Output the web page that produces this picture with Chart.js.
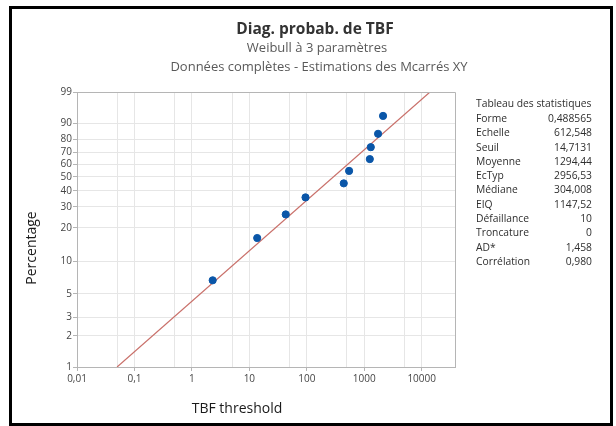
<!DOCTYPE html>
<html>
<head>
<meta charset="utf-8">
<script src="https://cdn.jsdelivr.net/npm/chart.js@4.4.0/dist/chart.umd.min.js"></script>
<style>
    html, body { margin: 0; padding: 0; background: #ffffff; }
    #wrap { width: 616px; height: 426px; }
</style>
</head>
<body>
<div id="wrap"><canvas id="probChart" width="616" height="426"></canvas></div>
<script>

// ======================================
// Data
// ======================================

// percent ticks of the Weibull probability axis
const yPctTicks = [1, 2, 3, 5, 10, 20, 30, 40, 50, 60, 70, 80, 90, 99];

// log axis: grid lines and the labelled decades
const xGridTicks = [0.01, 0.05, 0.1, 0.5, 1, 5, 10, 50, 100, 500, 1000, 5000, 10000];
const xLabelTicks = [0.01, 0.1, 1, 10, 100, 1000, 10000];
const xLabelText = ["0,01", "0,1", "1", "10", "100", "1000", "10000"];

// TBF - seuil, and plotted percentages
const tbfValues = [2.3, 13.7, 43, 95, 440, 545, 1250, 1300, 1740, 2125];
const pctValues = [6.7, 16.3, 26.0, 35.6, 45.2, 54.8, 64.4, 74.0, 83.7, 93.3];

// fitted parameters
const forme = 0.488565;
const echelle = 612.548;

// statistics table
const statLabels = [
    "Forme", "Echelle", "Seuil", "Moyenne", "EcTyp", "Médiane",
    "EIQ", "Défaillance", "Troncature", "AD*", "Corrélation"
];
const statValues = [
    "0,488565", "612,548", "14,7131", "1294,44", "2956,53", "304,008",
    "1147,52", "10", "0", "1,458", "0,980"
];

// ======================================
// Helpers
// ======================================

const weib = p => Math.log(-Math.log(1 - p / 100));

const fitX = p => echelle * Math.pow(-Math.log(1 - p / 100), 1 / forme);

const pointColor = "#0a56a8";
const lineColor = "#c9706a";
const gridColor = "#e6e6e6";
const axisColor = "#b5b5b5";
const tickColor = "#454545";
const uiFont = "'Open Sans', 'Noto Sans', sans-serif";

const points = tbfValues.map((x, i) => ({ x: x, y: weib(pctValues[i]) }));

const fitLine = [
    { x: fitX(yPctTicks[0]), y: weib(yPctTicks[0]) },
    { x: fitX(yPctTicks[yPctTicks.length - 1]), y: weib(yPctTicks[yPctTicks.length - 1]) }
];

// ======================================
// Texts, frames and table
// ======================================

const decorations = {

    id: "decorations",

    afterDraw(chart) {

        const ctx = chart.ctx;
        const area = chart.chartArea;

        ctx.save();

        // plot frame (top / right)
        ctx.strokeStyle = axisColor;
        ctx.lineWidth = 1;
        ctx.beginPath();
        ctx.moveTo(area.left, area.top + 0.5);
        ctx.lineTo(area.right + 0.5, area.top + 0.5);
        ctx.lineTo(area.right + 0.5, area.bottom);
        ctx.stroke();

        // outer border
        ctx.fillStyle = "#000000";
        ctx.fillRect(9, 6, 604, 3);
        ctx.fillRect(9, 6, 3, 420);
        ctx.fillRect(610, 6, 3, 420);
        ctx.fillRect(9, 423, 604, 3);

        // titles
        ctx.textAlign = "center";
        ctx.textBaseline = "middle";

        ctx.fillStyle = "#333333";
        ctx.font = "bold 15.5px " + uiFont;
        ctx.fillText("Diag. probab. de TBF", 315, 30);

        ctx.fillStyle = "#595959";
        ctx.font = "13px " + uiFont;
        ctx.fillText("Weibull à 3 paramètres", 317, 48);
        ctx.fillText("Données complètes - Estimations des Mcarrés XY", 319, 67);

        // axis titles
        ctx.fillStyle = "#1a1a1a";
        ctx.font = "14px " + uiFont;
        ctx.fillText("TBF threshold", 237, 409);

        ctx.save();
        ctx.translate(32, 248);
        ctx.rotate(-Math.PI / 2);
        ctx.fillText("Percentage", 0, 0);
        ctx.restore();

        // statistics table
        ctx.fillStyle = "#2e2e2e";
        ctx.font = "10.3px " + uiFont;
        ctx.textAlign = "left";
        ctx.fillText("Tableau des statistiques", 476, 104);

        statLabels.forEach((label, i) => {

            const y = 119 + i * 14.3;

            ctx.textAlign = "left";
            ctx.fillText(label, 476, y);

            ctx.textAlign = "right";
            ctx.fillText(statValues[i], 592, y);

        });

        ctx.restore();

    }

};

// ======================================
// Chart
// ======================================

new Chart(document.getElementById("probChart"), {

    type: "scatter",

    data: {

        datasets: [

            {
                label: "TBF",
                data: points,
                backgroundColor: pointColor,
                borderColor: pointColor,
                pointRadius: 3.6,
                pointHoverRadius: 3.6,
                order: 1
            },

            {
                type: "line",
                label: "Ajustement",
                data: fitLine,
                borderColor: lineColor,
                borderWidth: 1.2,
                pointRadius: 0,
                fill: false,
                order: 2
            }

        ]

    },

    options: {

        responsive: false,
        animation: false,
        devicePixelRatio: 1,

        layout: {
            padding: { left: 37, top: 92, right: 161, bottom: 29 }
        },

        plugins: {
            legend: { display: false },
            tooltip: { enabled: false }
        },

        scales: {

            x: {
                type: "logarithmic",
                min: 0.01,
                max: 38000,
                afterBuildTicks(scale) {
                    scale.ticks = xGridTicks.map(v => ({ value: v }));
                },
                afterFit(scale) {
                    scale.height = 30;
                },
                ticks: {
                    autoSkip: false,
                    maxRotation: 0,
                    padding: 2,
                    color: tickColor,
                    font: { size: 10, family: uiFont },
                    callback: (v) => {
                        const k = xLabelTicks.indexOf(v);
                        return k >= 0 ? xLabelText[k] : "";
                    }
                },
                grid: {
                    color: gridColor,
                    tickLength: 4,
                    tickColor: (c) => (c.tick && xLabelTicks.includes(c.tick.value)) ? axisColor : "rgba(0,0,0,0)"
                },
                border: { color: axisColor }
            },

            y: {
                type: "linear",
                min: weib(yPctTicks[0]),
                max: weib(yPctTicks[yPctTicks.length - 1]),
                afterBuildTicks(scale) {
                    scale.ticks = yPctTicks.map(p => ({ value: weib(p) }));
                },
                afterFit(scale) {
                    scale.width = 40;
                },
                ticks: {
                    autoSkip: false,
                    padding: 1,
                    color: tickColor,
                    font: { size: 10, family: uiFont },
                    callback: (v, i) => String(yPctTicks[i])
                },
                grid: {
                    color: gridColor,
                    tickLength: 4,
                    tickColor: axisColor
                },
                border: { color: axisColor }
            }

        }

    },

    plugins: [decorations]

});

</script>
</body>
</html>
